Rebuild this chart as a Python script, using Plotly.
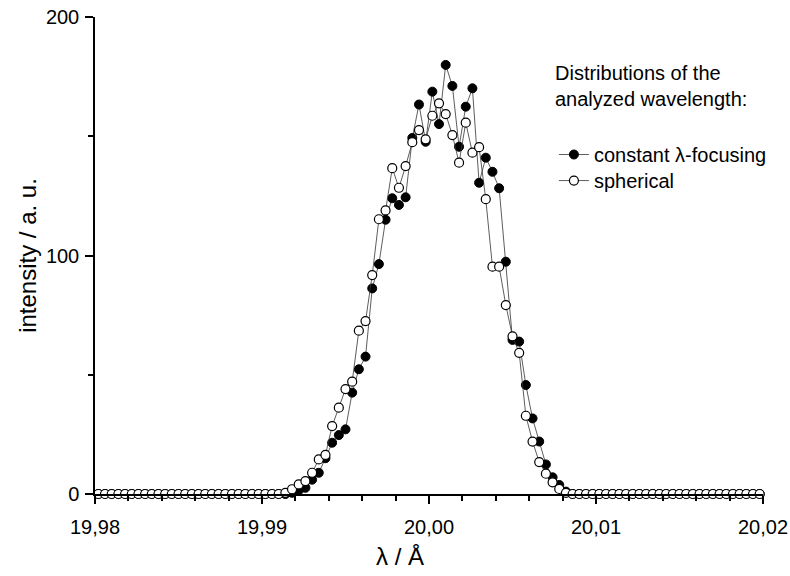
import plotly.graph_objects as go

# wavelength grid (Å)
wavelength = [
    19.9802, 19.9806, 19.9810, 19.9814, 19.9818, 19.9822, 19.9826, 19.9830, 19.9834, 19.9838,
    19.9842, 19.9846, 19.9850, 19.9854, 19.9858, 19.9862, 19.9866, 19.9870, 19.9874, 19.9878,
    19.9882, 19.9886, 19.9890, 19.9894, 19.9898, 19.9902, 19.9906, 19.9910, 19.9914, 19.9918,
    19.9922, 19.9926, 19.9930, 19.9934, 19.9938, 19.9942, 19.9946, 19.9950, 19.9954, 19.9958,
    19.9962, 19.9966, 19.9970, 19.9974, 19.9978, 19.9982, 19.9986, 19.9990, 19.9994, 19.9998,
    20.0002, 20.0006, 20.0010, 20.0014, 20.0018, 20.0022, 20.0026, 20.0030, 20.0034, 20.0038,
    20.0042, 20.0046, 20.0050, 20.0054, 20.0058, 20.0062, 20.0066, 20.0070, 20.0074, 20.0078,
    20.0082, 20.0086, 20.0090, 20.0094, 20.0098, 20.0102, 20.0106, 20.0110, 20.0114, 20.0118,
    20.0122, 20.0126, 20.0130, 20.0134, 20.0138, 20.0142, 20.0146, 20.0150, 20.0154, 20.0158,
    20.0162, 20.0166, 20.0170, 20.0174, 20.0178, 20.0182, 20.0186, 20.0190, 20.0194, 20.0198,
]

constant_focusing = [
    0, 0, 0, 0, 0, 0, 0, 0, 0, 0,
    0, 0, 0, 0, 0, 0, 0, 0, 0, 0,
    0, 0, 0, 0, 0, 0, 0, 0, 0, 0.5,
    1.5, 2.6, 6.0, 8.9, 15.0, 21.5, 24.7, 27.1, 42.5, 52.3,
    57.6, 86.2, 96.4, 115.0, 124.0, 121.2, 124.4, 149.3, 163.3, 147.7,
    168.7, 155.1, 179.9, 171.1, 145.6, 162.4, 170.1, 130.5, 141.0, 135.1,
    128.2, 97.4, 64.6, 63.9, 45.7, 31.7, 22.0, 12.4, 7.0, 3.8,
    1.0, 0, 0, 0, 0, 0, 0, 0, 0, 0,
    0, 0, 0, 0, 0, 0, 0, 0, 0, 0,
    0, 0, 0, 0, 0, 0, 0, 0, 0, 0,
]

spherical = [
    0, 0, 0, 0, 0, 0, 0, 0, 0, 0,
    0, 0, 0, 0, 0, 0, 0, 0, 0, 0,
    0, 0, 0, 0, 0, 0, 0, 0, 0.5, 2.0,
    4.0, 5.4, 8.9, 14.5, 16.4, 28.5, 36.2, 44.0, 47.1, 68.5,
    72.5, 91.8, 115.2, 118.9, 136.6, 128.4, 137.5, 147.5, 152.6, 148.7,
    158.6, 163.8, 159.3, 150.5, 138.9, 155.7, 143.1, 145.4, 123.6, 95.3,
    95.3, 79.2, 66.1, 59.2, 32.8, 22.0, 13.4, 8.5, 4.9, 2.1,
    0.5, 0, 0, 0, 0, 0, 0, 0, 0, 0,
    0, 0, 0, 0, 0, 0, 0, 0, 0, 0,
    0, 0, 0, 0, 0, 0, 0, 0, 0, 0,
]

x_tick_vals = [19.98, 19.99, 20.00, 20.01, 20.02]
x_tick_text = ["19,98", "19,99", "20,00", "20,01", "20,02"]
x_minor_vals = [19.982, 19.984, 19.986, 19.988, 19.992, 19.994, 19.996, 19.998,
                20.002, 20.004, 20.006, 20.008, 20.012, 20.014, 20.016, 20.018]
y_tick_vals = [0, 100, 200]
y_minor_vals = [50, 150]

FONT = "Liberation Sans, Arial, sans-serif"

fig = go.Figure()
fig.add_trace(go.Scatter(
    x=wavelength, y=constant_focusing, mode="lines+markers",
    name="constant λ-focusing", legend="legend",
    line=dict(color="#333333", width=0.8),
    marker=dict(symbol="circle", size=9, color="black", line=dict(color="black", width=1)),
    cliponaxis=False,
))
fig.add_trace(go.Scatter(
    x=wavelength, y=spherical, mode="lines+markers",
    name="spherical", legend="legend2",
    line=dict(color="#333333", width=0.8),
    marker=dict(symbol="circle", size=9, color="white", line=dict(color="black", width=1.2)),
    cliponaxis=False,
))

legend_common = dict(
    xanchor="left", yanchor="top",
    font=dict(size=20, family=FONT), bgcolor="rgba(0,0,0,0)",
    borderwidth=0, tracegroupgap=0, itemwidth=30,
)

fig.update_layout(
    width=790, height=576,
    margin=dict(l=95, r=27, t=17, b=82),
    paper_bgcolor="white", plot_bgcolor="white",
    font=dict(family=FONT, color="black"),
    showlegend=True,
    legend=dict(x=0.687, y=0.7526, **legend_common),
    legend2=dict(x=0.687, y=0.698, **legend_common),
    annotations=[
        dict(
            text="Distributions of the<br>analyzed wavelength:",
            x=0.686, y=0.909, xref="paper", yref="paper",
            xanchor="left", yanchor="top", align="left", showarrow=False,
            font=dict(size=20, family=FONT),
        ),
        dict(
            text="λ / Å", x=0.457, y=-0.131, xref="paper", yref="paper",
            xanchor="center", yanchor="middle", showarrow=False,
            font=dict(size=24, family=FONT),
        ),
    ],
)

fig.update_xaxes(
    range=[19.98, 20.02], showgrid=False, zeroline=False, automargin=False,
    showline=True, linecolor="black", linewidth=1.5,
    ticks="outside", ticklen=8, tickwidth=1.5, tickcolor="black",
    tickvals=x_tick_vals, ticktext=x_tick_text, ticklabeloverflow="allow",
    tickfont=dict(size=20, family=FONT), ticklabelstandoff=6,
    minor=dict(tickvals=x_minor_vals, ticks="outside", ticklen=5, tickwidth=1.5, tickcolor="black", showgrid=False),
)
fig.update_yaxes(
    range=[0, 200], showgrid=False, zeroline=False, automargin=False,
    showline=True, linecolor="black", linewidth=1.5,
    ticks="outside", ticklen=8, tickwidth=1.5, tickcolor="black",
    tickvals=y_tick_vals, ticktext=[str(v) for v in y_tick_vals], ticklabeloverflow="allow",
    tickfont=dict(size=20, family=FONT), ticklabelstandoff=2,
    minor=dict(tickvals=y_minor_vals, ticks="outside", ticklen=5, tickwidth=1.5, tickcolor="black", showgrid=False),
    title=dict(text="intensity / a. u.", font=dict(size=24, family=FONT), standoff=2),
)

# remove the default 8px page margin so the figure fills the 790x576 window exactly
fig.write_html(
    "out.html",
    config={"displayModeBar": False},
    post_script="document.body.style.margin='0';",
)
